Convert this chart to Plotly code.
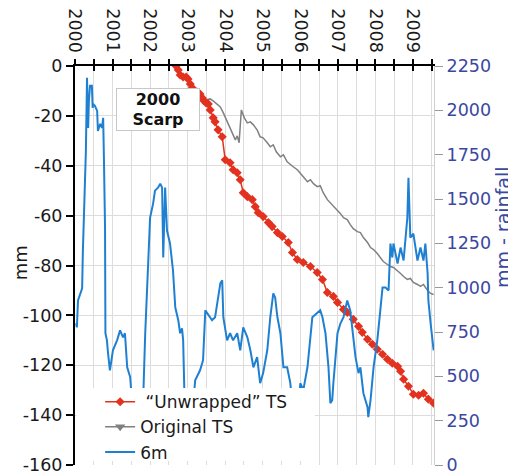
import plotly.graph_objects as go

# ---------------- data (decimal years) ----------------
unwrapped_x = [2002.69, 2002.75, 2002.80, 2002.88, 2002.96, 2003.01, 2003.07, 2003.12, 2003.17, 2003.25,
               2003.33, 2003.39, 2003.44, 2003.49, 2003.55, 2003.60, 2003.68, 2003.73, 2003.81, 2003.92,
               2004.00, 2004.13, 2004.21, 2004.32, 2004.40, 2004.48, 2004.59, 2004.72, 2004.80, 2004.88,
               2005.01, 2005.15, 2005.25, 2005.39, 2005.52, 2005.68, 2005.79, 2005.92, 2006.08, 2006.27,
               2006.45, 2006.59, 2006.72, 2006.88, 2006.99, 2007.15, 2007.25, 2007.41, 2007.55, 2007.65,
               2007.79, 2007.92, 2008.05, 2008.19, 2008.32, 2008.45, 2008.59, 2008.67, 2008.75, 2008.88,
               2009.01, 2009.15, 2009.28, 2009.41, 2009.55]
unwrapped_mm = [0.0, -1.6, -3.6, -4.4, -4.4, -5.2, -7.2, -8.8, -9.6, -10.4,
                -11.2, -12.8, -14.0, -14.8, -15.2, -17.6, -20.8, -22.4, -25.6, -28.4,
                -37.6, -38.8, -41.6, -42.8, -45.6, -50.8, -52.4, -53.6, -56.4, -58.8,
                -60.4, -62.8, -64.4, -66.8, -68.4, -70.8, -74.8, -77.6, -78.8, -80.4,
                -82.8, -85.6, -90.8, -92.4, -94.8, -97.6, -98.8, -101.6, -104.4, -106.8,
                -109.6, -111.6, -113.6, -115.6, -117.6, -119.2, -120.4, -122.4, -125.6, -128.4,
                -131.6, -132.0, -131.2, -133.6, -135.2]

original_x = [2002.69, 2002.80, 2002.93, 2003.07, 2003.20, 2003.33, 2003.47, 2003.60, 2003.68, 2003.79,
              2003.87, 2003.95, 2004.05, 2004.13, 2004.21, 2004.27, 2004.32, 2004.37, 2004.43, 2004.51,
              2004.59, 2004.67, 2004.75, 2004.85, 2004.93, 2005.01, 2005.12, 2005.20, 2005.28, 2005.36,
              2005.47, 2005.55, 2005.65, 2005.73, 2005.81, 2005.92, 2006.00, 2006.08, 2006.19, 2006.27,
              2006.35, 2006.45, 2006.53, 2006.61, 2006.72, 2006.80, 2006.88, 2006.99, 2007.07, 2007.15,
              2007.25, 2007.33, 2007.41, 2007.52, 2007.60, 2007.68, 2007.79, 2007.87, 2007.95, 2008.05,
              2008.13, 2008.21, 2008.32, 2008.40, 2008.48, 2008.59, 2008.67, 2008.75, 2008.85, 2008.93,
              2009.01, 2009.12, 2009.20, 2009.28, 2009.39, 2009.47, 2009.55]
original_mm = [0.0, -2.4, -4.4, -6.4, -8.8, -12.4, -13.6, -13.2, -14.0, -15.6,
               -16.4, -18.8, -22.0, -24.8, -27.6, -29.6, -28.0, -30.8, -17.6, -20.8,
               -22.8, -22.4, -23.6, -25.6, -28.4, -28.8, -30.8, -32.4, -31.6, -34.4,
               -36.4, -35.6, -38.4, -39.6, -40.4, -41.6, -43.2, -44.4, -46.4, -45.6,
               -47.2, -48.4, -48.0, -50.8, -53.6, -54.8, -56.4, -58.0, -59.2, -60.8,
               -61.6, -63.6, -65.2, -66.4, -66.8, -68.8, -70.8, -72.8, -73.6, -75.2,
               -76.8, -78.4, -79.6, -80.4, -80.8, -82.0, -83.2, -84.4, -85.6, -85.2,
               -86.8, -87.6, -88.4, -87.6, -90.0, -91.2, -91.6]

rain_x = [2000.03, 2000.05, 2000.08, 2000.13, 2000.19, 2000.21, 2000.27, 2000.29, 2000.32, 2000.35,
          2000.37, 2000.40, 2000.45, 2000.47, 2000.48, 2000.53, 2000.59, 2000.61, 2000.67, 2000.72,
          2000.75, 2000.77, 2000.80, 2000.81, 2000.85, 2000.88, 2000.93, 2001.01, 2001.12, 2001.20,
          2001.28, 2001.33, 2001.39, 2001.47, 2001.55, 2001.68, 2001.79, 2001.87, 2001.95, 2002.00,
          2002.08, 2002.13, 2002.21, 2002.27, 2002.32, 2002.35, 2002.40, 2002.45, 2002.53, 2002.61,
          2002.67, 2002.75, 2002.80, 2002.85, 2002.88, 2002.93, 2003.07, 2003.20, 2003.33, 2003.41,
          2003.47, 2003.55, 2003.65, 2003.73, 2003.79, 2003.87, 2003.92, 2003.95, 2004.05, 2004.13,
          2004.21, 2004.32, 2004.40, 2004.48, 2004.59, 2004.67, 2004.75, 2004.85, 2004.93, 2005.01,
          2005.12, 2005.20, 2005.28, 2005.33, 2005.39, 2005.47, 2005.55, 2005.65, 2005.73, 2005.81,
          2005.92, 2006.00, 2006.08, 2006.19, 2006.32, 2006.45, 2006.53, 2006.59, 2006.67, 2006.75,
          2006.80, 2006.85, 2006.88, 2006.99, 2007.07, 2007.15, 2007.25, 2007.33, 2007.39, 2007.47,
          2007.55, 2007.60, 2007.68, 2007.79, 2007.81, 2007.87, 2007.95, 2008.05, 2008.13, 2008.19,
          2008.27, 2008.35, 2008.40, 2008.45, 2008.48, 2008.59, 2008.67, 2008.75, 2008.85, 2008.88,
          2008.93, 2009.01, 2009.12, 2009.20, 2009.28, 2009.33, 2009.39, 2009.41, 2009.47, 2009.55]
rain_mm = [799, 776, 928, 956, 996, 1209, 1547, 1772, 2183, 1901,
           2053, 2138, 2138, 2014, 2036, 2025, 1997, 1884, 1924, 1901,
           1958, 1733, 1339, 743, 703, 630, 534, 647, 703, 759,
           720, 743, 551, 495, 253, 300, 197, 743, 1209, 1395,
           1474, 1547, 1564, 1586, 1564, 1170, 1564, 1322, 1249, 1097,
           889, 816, 743, 771, 703, 253, 140, 478, 534, 591,
           872, 844, 816, 833, 928, 1024, 1041, 833, 703, 743,
           703, 743, 647, 776, 720, 647, 551, 608, 461, 518,
           647, 833, 968, 945, 833, 743, 551, 551, 467, 309,
           253, 461, 422, 551, 833, 855, 872, 833, 743, 551,
           349, 366, 461, 743, 799, 833, 928, 872, 743, 608,
           518, 551, 405, 326, 270, 366, 551, 703, 872, 1001,
           1001, 984, 1249, 1170, 1249, 1136, 1226, 1153, 1395, 1620,
           1282, 1305, 1153, 1226, 1153, 1249, 1080, 928, 799, 647]

year_ticks = [2000 + 0.5 * i for i in range(20)]
year_labels = [str(int(v)) if v == int(v) else "" for v in year_ticks]
mm_ticks = [-160, -140, -120, -100, -80, -60, -40, -20, 0]
mm_labels = ["-160", "-140", "-120", "-100", "-80", "-60", "-40", "-20", "0"]
rain_ticks = [0, 250, 500, 750, 1000, 1250, 1500, 1750, 2000, 2250]

RED = "#e2321f"
GRAY = "#808080"
BLUE = "#1f80d2"
AXBLUE = "#3b48a0"
FONT = "DejaVu Sans"

fig = go.Figure()
fig.add_trace(go.Scatter(x=rain_x, y=rain_mm, mode="lines", name="6m", yaxis="y2",
                         line=dict(color=BLUE, width=2), showlegend=False))
fig.add_trace(go.Scatter(x=original_x, y=original_mm, mode="lines", name="Original TS",
                         line=dict(color=GRAY, width=1.5), showlegend=False))
fig.add_trace(go.Scatter(x=unwrapped_x, y=unwrapped_mm, mode="lines+markers", name=" “Unwrapped” TS",
                         line=dict(color=RED, width=1.5),
                         marker=dict(symbol="diamond", size=7, color=RED)))
# legend entries
fig.add_trace(go.Scatter(x=[None], y=[None], mode="lines+markers", name="Original TS",
                         line=dict(color=GRAY, width=1.5),
                         marker=dict(symbol="triangle-down", size=9, color=GRAY)))
fig.add_trace(go.Scatter(x=[None], y=[None], mode="lines", name="6m",
                         line=dict(color=BLUE, width=2)))
fig.add_trace(go.Scatter(x=[None], y=[None], xaxis="x2", showlegend=False))

fig.update_layout(
    width=516, height=475,
    margin=dict(l=67, r=90, t=58, b=18, autoexpand=False),
    paper_bgcolor="white", plot_bgcolor="white",
    font=dict(family=FONT, size=17, color="#1a1a1a"),
    xaxis=dict(side="top", range=[2000, 2009.56], tickvals=year_ticks, ticktext=year_labels,
               tickangle=90, ticks="outside", ticklen=5, tickwidth=1.5, tickcolor="black",
               showline=True, linecolor="black", linewidth=2, showgrid=True, gridcolor="#dcdcdc",
               gridwidth=1, zeroline=False, tickfont=dict(size=17.5), automargin=False),
    xaxis2=dict(overlaying="x", side="top", range=[2000, 2009.56], tickvals=year_ticks,
                showticklabels=False, ticks="inside", ticklen=5, tickwidth=1.5, tickcolor="black",
                showgrid=False, zeroline=False, showline=False, automargin=False),
    yaxis=dict(range=[-160, 0], tickvals=mm_ticks, ticktext=mm_labels, ticks="outside", ticklen=7,
               tickwidth=1.5, tickcolor="black", showline=True, linecolor="black", linewidth=2,
               showgrid=True, gridcolor="#dcdcdc", zeroline=False, tickfont=dict(size=17.5),
               automargin=False),
    yaxis2=dict(overlaying="y", side="right", range=[0, 2250], tickvals=rain_ticks, ticks="outside",
                ticklen=8, tickcolor="#9a9a9a", showline=True, linecolor="#cfcfcf", linewidth=1,
                showgrid=False, zeroline=False, tickfont=dict(size=17.5, color=AXBLUE),
                automargin=False),
    legend=dict(x=0.07, y=0.2025, xanchor="left", yanchor="top", bgcolor="rgba(0,0,0,0)",
                font=dict(size=17, color="#1a1a1a"), tracegroupgap=0, itemwidth=30),
    shapes=[dict(type="rect", xref="paper", yref="paper", x0=0.004, x1=0.668, y0=0.01, y1=0.193,
                 fillcolor="white", line=dict(width=0), layer="above")],
    annotations=[
        dict(text="<b>2000<br>Scarp</b>", xref="paper", yref="paper", x=0.231, y=0.891,
             xanchor="center", yanchor="middle",
             showarrow=False, font=dict(size=16, color="#111"), bgcolor="white",
             bordercolor="#c8c8c8", borderwidth=1, borderpad=1, width=80, height=39),
        dict(text="mm", xref="paper", yref="paper", x=-0.153, y=0.506, showarrow=False,
             xanchor="center", yanchor="middle",
             textangle=-90, font=dict(size=18, color="#1a1a1a")),
        dict(text="mm - rainfall", xref="paper", yref="paper", x=1.193, y=0.597, showarrow=False,
             xanchor="center", yanchor="middle",
             textangle=-90, font=dict(size=19, color=AXBLUE)),
    ],
)

fig.write_html("out.html")
